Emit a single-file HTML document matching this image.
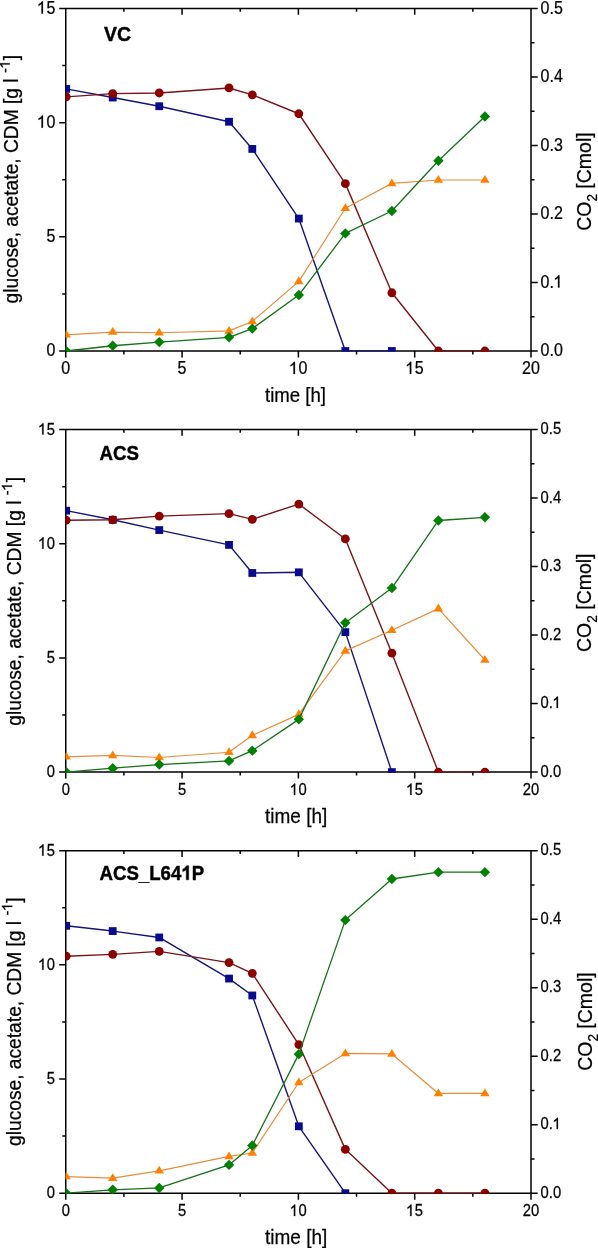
<!DOCTYPE html><html><head><meta charset="utf-8"><title>Fermentation time courses</title><style>
html,body{margin:0;padding:0;background:#fff;}body{width:598px;height:1248px;overflow:hidden;}
svg{display:block;will-change:transform;}text{font-family:"Liberation Sans",sans-serif;fill:#000;stroke:#000;stroke-width:0.25px;}.o{fill:#000;stroke:#000;stroke-width:0.25px;vector-effect:non-scaling-stroke;}text.b{stroke-width:0.45px;}.ob{fill:#000;stroke:#000;stroke-width:0.45px;vector-effect:non-scaling-stroke;}
</style></head><body>
<svg width="598" height="1248" viewBox="0 0 598 1248">
<rect x="0" y="0" width="598" height="1248" fill="#fff"/>
<path d="M65.75 8.5H531V351H65.75ZM59.25 351H65.75M62.25 293.92H65.75M59.25 236.83H65.75M62.25 179.75H65.75M59.25 122.67H65.75M62.25 65.58H65.75M59.25 8.5H65.75M531 351H537.7M531 316.75H534.5M531 282.5H537.7M531 248.25H534.5M531 214H537.7M531 179.75H534.5M531 145.5H537.7M531 111.25H534.5M531 77H537.7M531 42.75H534.5M531 8.5H537.7M65.75 351V357.5M123.91 351V354.5M123.91 8.5V11.7M182.06 351V357.5M182.06 8.5V14.7M240.22 351V354.5M240.22 8.5V11.7M298.38 351V357.5M298.38 8.5V14.7M356.53 351V354.5M356.53 8.5V11.7M414.69 351V357.5M414.69 8.5V14.7M472.84 351V354.5M472.84 8.5V11.7M531 351V357.5" fill="none" stroke="#000" stroke-width="1.5"/>
<defs><clipPath id="c0"><rect x="65.45" y="8.2" width="465.85" height="343.4"/></clipPath></defs>
<g clip-path="url(#c0)">
<polyline fill="none" stroke="#141478" stroke-width="1.4" stroke-linejoin="round" points="66.2,88.87 112.72,97.55 159.25,106.23 229.04,121.75 252.3,148.93 298.82,218.57 345.35,351 391.88,351"/>
<rect x="62.3" y="84.97" width="7.8" height="7.8" fill="#0a0a8c"/>
<rect x="108.82" y="93.65" width="7.8" height="7.8" fill="#0a0a8c"/>
<rect x="155.35" y="102.33" width="7.8" height="7.8" fill="#0a0a8c"/>
<rect x="225.14" y="117.85" width="7.8" height="7.8" fill="#0a0a8c"/>
<rect x="248.4" y="145.03" width="7.8" height="7.8" fill="#0a0a8c"/>
<rect x="294.93" y="214.67" width="7.8" height="7.8" fill="#0a0a8c"/>
<rect x="341.45" y="347.1" width="7.8" height="7.8" fill="#0a0a8c"/>
<rect x="387.98" y="347.1" width="7.8" height="7.8" fill="#0a0a8c"/>
<polyline fill="none" stroke="#761418" stroke-width="1.4" stroke-linejoin="round" points="66.2,96.87 112.72,93.67 159.25,92.98 229.04,87.96 252.3,94.81 298.82,113.76 345.35,183.63 391.88,292.77 438.4,351 484.92,351"/>
<circle cx="66.2" cy="96.87" r="4.4" fill="#8c0000"/>
<circle cx="112.72" cy="93.67" r="4.4" fill="#8c0000"/>
<circle cx="159.25" cy="92.98" r="4.4" fill="#8c0000"/>
<circle cx="229.04" cy="87.96" r="4.4" fill="#8c0000"/>
<circle cx="252.3" cy="94.81" r="4.4" fill="#8c0000"/>
<circle cx="298.82" cy="113.76" r="4.4" fill="#8c0000"/>
<circle cx="345.35" cy="183.63" r="4.4" fill="#8c0000"/>
<circle cx="391.88" cy="292.77" r="4.4" fill="#8c0000"/>
<circle cx="438.4" cy="351" r="4.4" fill="#8c0000"/>
<circle cx="484.92" cy="351" r="4.4" fill="#8c0000"/>
<polyline fill="none" stroke="#e88c3c" stroke-width="1.2" stroke-linejoin="round" points="66.2,334.79 112.72,332.05 159.25,332.73 229.04,330.91 252.3,321.55 298.82,281.36 345.35,208.29 391.88,183.4 438.4,179.98 484.92,179.98"/>
<polygon points="66.2,329.79 70.9,337.59 61.5,337.59" fill="#ff8000"/>
<polygon points="112.72,327.05 117.42,334.85 108.02,334.85" fill="#ff8000"/>
<polygon points="159.25,327.73 163.95,335.53 154.55,335.53" fill="#ff8000"/>
<polygon points="229.04,325.91 233.74,333.71 224.34,333.71" fill="#ff8000"/>
<polygon points="252.3,316.55 257,324.35 247.6,324.35" fill="#ff8000"/>
<polygon points="298.82,276.36 303.52,284.16 294.12,284.16" fill="#ff8000"/>
<polygon points="345.35,203.29 350.05,211.09 340.65,211.09" fill="#ff8000"/>
<polygon points="391.88,178.4 396.57,186.2 387.18,186.2" fill="#ff8000"/>
<polygon points="438.4,174.98 443.1,182.78 433.7,182.78" fill="#ff8000"/>
<polygon points="484.92,174.98 489.62,182.78 480.22,182.78" fill="#ff8000"/>
<polyline fill="none" stroke="#167018" stroke-width="1.3" stroke-linejoin="round" points="66.2,351 112.72,345.75 159.25,342.1 229.04,337.3 252.3,328.62 298.82,295.06 345.35,233.41 391.88,211.03 438.4,160.8 484.92,116.5"/>
<polygon points="66.2,345.8 71.4,351 66.2,356.2 61,351" fill="#008000"/>
<polygon points="112.72,340.55 117.92,345.75 112.72,350.95 107.52,345.75" fill="#008000"/>
<polygon points="159.25,336.9 164.45,342.1 159.25,347.3 154.05,342.1" fill="#008000"/>
<polygon points="229.04,332.1 234.24,337.3 229.04,342.5 223.84,337.3" fill="#008000"/>
<polygon points="252.3,323.42 257.5,328.62 252.3,333.82 247.1,328.62" fill="#008000"/>
<polygon points="298.82,289.86 304.02,295.06 298.82,300.26 293.62,295.06" fill="#008000"/>
<polygon points="345.35,228.21 350.55,233.41 345.35,238.61 340.15,233.41" fill="#008000"/>
<polygon points="391.88,205.83 397.07,211.03 391.88,216.23 386.68,211.03" fill="#008000"/>
<polygon points="438.4,155.6 443.6,160.8 438.4,166 433.2,160.8" fill="#008000"/>
<polygon points="484.92,111.3 490.12,116.5 484.92,121.7 479.72,116.5" fill="#008000"/>
</g>
<g transform="translate(55.3 356) scale(0.9 1)"><text x="-9.9" y="0" font-size="17.8">0</text></g>
<g transform="translate(55.3 241.83) scale(0.9 1)"><text x="-9.9" y="0" font-size="17.8">5</text></g>
<g transform="translate(55.3 127.67) scale(0.9 1)"><text x="-19.8" y="0" font-size="17.8"> 0</text><path class="o" transform="translate(-19.8 0) scale(0.008691 -0.008691)" d="M700 0H515V1098Q360 962 140 892V1058Q450 1190 582 1409H700Z"/></g>
<g transform="translate(55.3 13.5) scale(0.9 1)"><text x="-19.8" y="0" font-size="17.8"> 5</text><path class="o" transform="translate(-19.8 0) scale(0.008691 -0.008691)" d="M700 0H515V1098Q360 962 140 892V1058Q450 1190 582 1409H700Z"/></g>
<g transform="translate(540.6 356) scale(0.9 1)"><text x="0" y="0" font-size="17.8">0.0</text></g>
<g transform="translate(540.6 287.5) scale(0.9 1)"><text x="0" y="0" font-size="17.8">0. </text><path class="o" transform="translate(14.84 0) scale(0.008691 -0.008691)" d="M700 0H515V1098Q360 962 140 892V1058Q450 1190 582 1409H700Z"/></g>
<g transform="translate(540.6 219) scale(0.9 1)"><text x="0" y="0" font-size="17.8">0.2</text></g>
<g transform="translate(540.6 150.5) scale(0.9 1)"><text x="0" y="0" font-size="17.8">0.3</text></g>
<g transform="translate(540.6 82) scale(0.9 1)"><text x="0" y="0" font-size="17.8">0.4</text></g>
<g transform="translate(540.6 13.5) scale(0.9 1)"><text x="0" y="0" font-size="17.8">0.5</text></g>
<g transform="translate(65.75 374.1) scale(0.9 1)"><text x="-4.95" y="0" font-size="17.8">0</text></g>
<g transform="translate(182.06 374.1) scale(0.9 1)"><text x="-4.95" y="0" font-size="17.8">5</text></g>
<g transform="translate(298.38 374.1) scale(0.9 1)"><text x="-9.9" y="0" font-size="17.8"> 0</text><path class="o" transform="translate(-9.9 0) scale(0.008691 -0.008691)" d="M700 0H515V1098Q360 962 140 892V1058Q450 1190 582 1409H700Z"/></g>
<g transform="translate(414.69 374.1) scale(0.9 1)"><text x="-9.9" y="0" font-size="17.8"> 5</text><path class="o" transform="translate(-9.9 0) scale(0.008691 -0.008691)" d="M700 0H515V1098Q360 962 140 892V1058Q450 1190 582 1409H700Z"/></g>
<g transform="translate(531 374.1) scale(0.9 1)"><text x="-9.9" y="0" font-size="17.8">20</text></g>
<g transform="translate(265 402) scale(0.93 1)"><text x="0" y="0" font-size="20">time [h]</text></g>
<g transform="translate(18.3 179.15) rotate(-90) scale(0.96 1)"><text x="-129.5" y="0" font-size="20">glucose, acetate, CDM [g l </text><text x="110.61" y="-8.6" font-size="15">-</text><path class="o" transform="translate(115.6 -8.6) scale(0.007324 -0.007324)" d="M700 0H515V1098Q360 962 140 892V1058Q450 1190 582 1409H700Z"/><text x="123.94" y="0" font-size="20">]</text></g>
<g transform="translate(591 181.6) rotate(-90) scale(0.974 1)"><text x="-50.56" y="0" font-size="20">CO</text><text x="-20.56" y="6" font-size="14">2</text><text x="-7.22" y="0" font-size="20">[Cmol]</text></g>
<g transform="translate(104 40.6) scale(0.95 1)"><text x="0" y="0" font-size="20.5" font-weight="bold" class="b">VC</text></g>
<path d="M65.75 429.6H531V772.1H65.75ZM59.25 772.1H65.75M62.25 715.02H65.75M59.25 657.93H65.75M62.25 600.85H65.75M59.25 543.77H65.75M62.25 486.68H65.75M59.25 429.6H65.75M531 772.1H537.7M531 737.85H534.5M531 703.6H537.7M531 669.35H534.5M531 635.1H537.7M531 600.85H534.5M531 566.6H537.7M531 532.35H534.5M531 498.1H537.7M531 463.85H534.5M531 429.6H537.7M65.75 772.1V778.6M123.91 772.1V775.6M123.91 429.6V432.8M182.06 772.1V778.6M182.06 429.6V435.8M240.22 772.1V775.6M240.22 429.6V432.8M298.38 772.1V778.6M298.38 429.6V435.8M356.53 772.1V775.6M356.53 429.6V432.8M414.69 772.1V778.6M414.69 429.6V435.8M472.84 772.1V775.6M472.84 429.6V432.8M531 772.1V778.6" fill="none" stroke="#000" stroke-width="1.5"/>
<defs><clipPath id="c1"><rect x="65.45" y="429.3" width="465.85" height="343.4"/></clipPath></defs>
<g clip-path="url(#c1)">
<polyline fill="none" stroke="#141478" stroke-width="1.4" stroke-linejoin="round" points="66.2,510.66 112.72,519.79 159.25,530.07 229.04,544.91 252.3,572.99 298.82,572.31 345.35,632.13 391.88,772.1"/>
<rect x="62.3" y="506.76" width="7.8" height="7.8" fill="#0a0a8c"/>
<rect x="108.82" y="515.89" width="7.8" height="7.8" fill="#0a0a8c"/>
<rect x="155.35" y="526.17" width="7.8" height="7.8" fill="#0a0a8c"/>
<rect x="225.14" y="541.01" width="7.8" height="7.8" fill="#0a0a8c"/>
<rect x="248.4" y="569.09" width="7.8" height="7.8" fill="#0a0a8c"/>
<rect x="294.93" y="568.41" width="7.8" height="7.8" fill="#0a0a8c"/>
<rect x="341.45" y="628.23" width="7.8" height="7.8" fill="#0a0a8c"/>
<rect x="387.98" y="768.2" width="7.8" height="7.8" fill="#0a0a8c"/>
<polyline fill="none" stroke="#761418" stroke-width="1.4" stroke-linejoin="round" points="66.2,520.25 112.72,519.79 159.25,516.14 229.04,513.63 252.3,519.34 298.82,504.04 345.35,538.97 391.88,653.14 438.4,772.1 484.92,772.1"/>
<circle cx="66.2" cy="520.25" r="4.4" fill="#8c0000"/>
<circle cx="112.72" cy="519.79" r="4.4" fill="#8c0000"/>
<circle cx="159.25" cy="516.14" r="4.4" fill="#8c0000"/>
<circle cx="229.04" cy="513.63" r="4.4" fill="#8c0000"/>
<circle cx="252.3" cy="519.34" r="4.4" fill="#8c0000"/>
<circle cx="298.82" cy="504.04" r="4.4" fill="#8c0000"/>
<circle cx="345.35" cy="538.97" r="4.4" fill="#8c0000"/>
<circle cx="391.88" cy="653.14" r="4.4" fill="#8c0000"/>
<circle cx="438.4" cy="772.1" r="4.4" fill="#8c0000"/>
<circle cx="484.92" cy="772.1" r="4.4" fill="#8c0000"/>
<polyline fill="none" stroke="#e88c3c" stroke-width="1.2" stroke-linejoin="round" points="66.2,756.8 112.72,755.43 159.25,757.49 229.04,752.24 252.3,735.34 298.82,714.33 345.35,650.86 391.88,630.31 438.4,608.61 484.92,659.99"/>
<polygon points="66.2,751.8 70.9,759.6 61.5,759.6" fill="#ff8000"/>
<polygon points="112.72,750.43 117.42,758.23 108.02,758.23" fill="#ff8000"/>
<polygon points="159.25,752.49 163.95,760.29 154.55,760.29" fill="#ff8000"/>
<polygon points="229.04,747.24 233.74,755.03 224.34,755.03" fill="#ff8000"/>
<polygon points="252.3,730.34 257,738.14 247.6,738.14" fill="#ff8000"/>
<polygon points="298.82,709.33 303.52,717.13 294.12,717.13" fill="#ff8000"/>
<polygon points="345.35,645.86 350.05,653.65 340.65,653.65" fill="#ff8000"/>
<polygon points="391.88,625.31 396.57,633.11 387.18,633.11" fill="#ff8000"/>
<polygon points="438.4,603.61 443.1,611.41 433.7,611.41" fill="#ff8000"/>
<polygon points="484.92,654.99 489.62,662.79 480.22,662.79" fill="#ff8000"/>
<polyline fill="none" stroke="#167018" stroke-width="1.3" stroke-linejoin="round" points="66.2,772.1 112.72,768.22 159.25,764.57 229.04,760.91 252.3,750.64 298.82,719.36 345.35,622.77 391.88,588.06 438.4,520.48 484.92,517.28"/>
<polygon points="66.2,766.9 71.4,772.1 66.2,777.3 61,772.1" fill="#008000"/>
<polygon points="112.72,763.02 117.92,768.22 112.72,773.42 107.52,768.22" fill="#008000"/>
<polygon points="159.25,759.37 164.45,764.57 159.25,769.77 154.05,764.57" fill="#008000"/>
<polygon points="229.04,755.71 234.24,760.91 229.04,766.11 223.84,760.91" fill="#008000"/>
<polygon points="252.3,745.44 257.5,750.64 252.3,755.84 247.1,750.64" fill="#008000"/>
<polygon points="298.82,714.15 304.02,719.36 298.82,724.56 293.62,719.36" fill="#008000"/>
<polygon points="345.35,617.57 350.55,622.77 345.35,627.97 340.15,622.77" fill="#008000"/>
<polygon points="391.88,582.86 397.07,588.06 391.88,593.26 386.68,588.06" fill="#008000"/>
<polygon points="438.4,515.28 443.6,520.48 438.4,525.68 433.2,520.48" fill="#008000"/>
<polygon points="484.92,512.08 490.12,517.28 484.92,522.48 479.72,517.28" fill="#008000"/>
</g>
<g transform="translate(54.9 777.1) scale(0.89 1)"><text x="-9.23" y="0" font-size="16.6">0</text></g>
<g transform="translate(54.9 662.93) scale(0.89 1)"><text x="-9.23" y="0" font-size="16.6">5</text></g>
<g transform="translate(54.9 548.77) scale(0.89 1)"><text x="-18.46" y="0" font-size="16.6"> 0</text><path class="o" transform="translate(-18.46 0) scale(0.008105 -0.008105)" d="M700 0H515V1098Q360 962 140 892V1058Q450 1190 582 1409H700Z"/></g>
<g transform="translate(54.9 434.6) scale(0.89 1)"><text x="-18.46" y="0" font-size="16.6"> 5</text><path class="o" transform="translate(-18.46 0) scale(0.008105 -0.008105)" d="M700 0H515V1098Q360 962 140 892V1058Q450 1190 582 1409H700Z"/></g>
<g transform="translate(540.6 776.5) scale(0.89 1)"><text x="0" y="0" font-size="16.6">0.0</text></g>
<g transform="translate(540.6 708) scale(0.89 1)"><text x="0" y="0" font-size="16.6">0. </text><path class="o" transform="translate(13.84 0) scale(0.008105 -0.008105)" d="M700 0H515V1098Q360 962 140 892V1058Q450 1190 582 1409H700Z"/></g>
<g transform="translate(540.6 639.5) scale(0.89 1)"><text x="0" y="0" font-size="16.6">0.2</text></g>
<g transform="translate(540.6 571) scale(0.89 1)"><text x="0" y="0" font-size="16.6">0.3</text></g>
<g transform="translate(540.6 502.5) scale(0.89 1)"><text x="0" y="0" font-size="16.6">0.4</text></g>
<g transform="translate(540.6 434) scale(0.89 1)"><text x="0" y="0" font-size="16.6">0.5</text></g>
<g transform="translate(65.75 794.9) scale(0.89 1)"><text x="-4.62" y="0" font-size="16.6">0</text></g>
<g transform="translate(182.06 794.9) scale(0.89 1)"><text x="-4.62" y="0" font-size="16.6">5</text></g>
<g transform="translate(298.38 794.9) scale(0.89 1)"><text x="-9.23" y="0" font-size="16.6"> 0</text><path class="o" transform="translate(-9.23 0) scale(0.008105 -0.008105)" d="M700 0H515V1098Q360 962 140 892V1058Q450 1190 582 1409H700Z"/></g>
<g transform="translate(414.69 794.9) scale(0.89 1)"><text x="-9.23" y="0" font-size="16.6"> 5</text><path class="o" transform="translate(-9.23 0) scale(0.008105 -0.008105)" d="M700 0H515V1098Q360 962 140 892V1058Q450 1190 582 1409H700Z"/></g>
<g transform="translate(531 794.9) scale(0.89 1)"><text x="-9.23" y="0" font-size="16.6">20</text></g>
<g transform="translate(265 823.1) scale(0.95 1)"><text x="0" y="0" font-size="20">time [h]</text></g>
<g transform="translate(20.7 601.35) rotate(-90) scale(0.96 1)"><text x="-129.5" y="0" font-size="20">glucose, acetate, CDM [g l </text><text x="110.61" y="-8.6" font-size="15">-</text><path class="o" transform="translate(115.6 -8.6) scale(0.007324 -0.007324)" d="M700 0H515V1098Q360 962 140 892V1058Q450 1190 582 1409H700Z"/><text x="123.94" y="0" font-size="20">]</text></g>
<g transform="translate(591 602.7) rotate(-90) scale(0.974 1)"><text x="-50.56" y="0" font-size="20">CO</text><text x="-20.56" y="6" font-size="14">2</text><text x="-7.22" y="0" font-size="20">[Cmol]</text></g>
<g transform="translate(99.5 459.7) scale(0.91 1)"><text x="0" y="0" font-size="20.5" font-weight="bold" class="b">ACS</text></g>
<path d="M65.75 850.7H531V1193.2H65.75ZM59.25 1193.2H65.75M62.25 1136.12H65.75M59.25 1079.03H65.75M62.25 1021.95H65.75M59.25 964.87H65.75M62.25 907.78H65.75M59.25 850.7H65.75M531 1193.2H537.7M531 1158.95H534.5M531 1124.7H537.7M531 1090.45H534.5M531 1056.2H537.7M531 1021.95H534.5M531 987.7H537.7M531 953.45H534.5M531 919.2H537.7M531 884.95H534.5M531 850.7H537.7M65.75 1193.2V1199.7M123.91 1193.2V1196.7M123.91 850.7V853.9M182.06 1193.2V1199.7M182.06 850.7V856.9M240.22 1193.2V1196.7M240.22 850.7V853.9M298.38 1193.2V1199.7M298.38 850.7V856.9M356.53 1193.2V1196.7M356.53 850.7V853.9M414.69 1193.2V1199.7M414.69 850.7V856.9M472.84 1193.2V1196.7M472.84 850.7V853.9M531 1193.2V1199.7" fill="none" stroke="#000" stroke-width="1.5"/>
<defs><clipPath id="c2"><rect x="65.45" y="850.4" width="465.85" height="343.4"/></clipPath></defs>
<g clip-path="url(#c2)">
<polyline fill="none" stroke="#141478" stroke-width="1.4" stroke-linejoin="round" points="66.2,925.82 112.72,931.07 159.25,937.47 229.04,978.57 252.3,995.46 298.82,1126.3 345.35,1193.2"/>
<rect x="62.3" y="921.92" width="7.8" height="7.8" fill="#0a0a8c"/>
<rect x="108.82" y="927.17" width="7.8" height="7.8" fill="#0a0a8c"/>
<rect x="155.35" y="933.57" width="7.8" height="7.8" fill="#0a0a8c"/>
<rect x="225.14" y="974.67" width="7.8" height="7.8" fill="#0a0a8c"/>
<rect x="248.4" y="991.56" width="7.8" height="7.8" fill="#0a0a8c"/>
<rect x="294.93" y="1122.4" width="7.8" height="7.8" fill="#0a0a8c"/>
<rect x="341.45" y="1189.3" width="7.8" height="7.8" fill="#0a0a8c"/>
<polyline fill="none" stroke="#761418" stroke-width="1.4" stroke-linejoin="round" points="66.2,956.19 112.72,954.36 159.25,951.4 229.04,962.58 252.3,973.32 298.82,1044.56 345.35,1149.36 391.88,1193.2 438.4,1193.2 484.92,1193.2"/>
<circle cx="66.2" cy="956.19" r="4.4" fill="#8c0000"/>
<circle cx="112.72" cy="954.36" r="4.4" fill="#8c0000"/>
<circle cx="159.25" cy="951.4" r="4.4" fill="#8c0000"/>
<circle cx="229.04" cy="962.58" r="4.4" fill="#8c0000"/>
<circle cx="252.3" cy="973.32" r="4.4" fill="#8c0000"/>
<circle cx="298.82" cy="1044.56" r="4.4" fill="#8c0000"/>
<circle cx="345.35" cy="1149.36" r="4.4" fill="#8c0000"/>
<circle cx="391.88" cy="1193.2" r="4.4" fill="#8c0000"/>
<circle cx="438.4" cy="1193.2" r="4.4" fill="#8c0000"/>
<circle cx="484.92" cy="1193.2" r="4.4" fill="#8c0000"/>
<polyline fill="none" stroke="#e88c3c" stroke-width="1.2" stroke-linejoin="round" points="66.2,1176.53 112.72,1178.13 159.25,1170.82 229.04,1156.44 252.3,1153.01 298.82,1082.46 345.35,1053.46 391.88,1053.92 438.4,1093.42 484.92,1093.42"/>
<polygon points="66.2,1171.53 70.9,1179.33 61.5,1179.33" fill="#ff8000"/>
<polygon points="112.72,1173.13 117.42,1180.93 108.02,1180.93" fill="#ff8000"/>
<polygon points="159.25,1165.82 163.95,1173.62 154.55,1173.62" fill="#ff8000"/>
<polygon points="229.04,1151.44 233.74,1159.24 224.34,1159.24" fill="#ff8000"/>
<polygon points="252.3,1148.01 257,1155.81 247.6,1155.81" fill="#ff8000"/>
<polygon points="298.82,1077.46 303.52,1085.26 294.12,1085.26" fill="#ff8000"/>
<polygon points="345.35,1048.46 350.05,1056.26 340.65,1056.26" fill="#ff8000"/>
<polygon points="391.88,1048.92 396.57,1056.72 387.18,1056.72" fill="#ff8000"/>
<polygon points="438.4,1088.42 443.1,1096.22 433.7,1096.22" fill="#ff8000"/>
<polygon points="484.92,1088.42 489.62,1096.22 480.22,1096.22" fill="#ff8000"/>
<polyline fill="none" stroke="#167018" stroke-width="1.3" stroke-linejoin="round" points="66.2,1193.2 112.72,1189.78 159.25,1187.95 229.04,1164.89 252.3,1145.48 298.82,1054.14 345.35,920.11 391.88,879.01 438.4,872.16 484.92,872.16"/>
<polygon points="66.2,1188 71.4,1193.2 66.2,1198.4 61,1193.2" fill="#008000"/>
<polygon points="112.72,1184.58 117.92,1189.78 112.72,1194.98 107.52,1189.78" fill="#008000"/>
<polygon points="159.25,1182.75 164.45,1187.95 159.25,1193.15 154.05,1187.95" fill="#008000"/>
<polygon points="229.04,1159.69 234.24,1164.89 229.04,1170.09 223.84,1164.89" fill="#008000"/>
<polygon points="252.3,1140.28 257.5,1145.48 252.3,1150.68 247.1,1145.48" fill="#008000"/>
<polygon points="298.82,1048.94 304.02,1054.14 298.82,1059.35 293.62,1054.14" fill="#008000"/>
<polygon points="345.35,914.91 350.55,920.11 345.35,925.31 340.15,920.11" fill="#008000"/>
<polygon points="391.88,873.81 397.07,879.01 391.88,884.21 386.68,879.01" fill="#008000"/>
<polygon points="438.4,866.96 443.6,872.16 438.4,877.36 433.2,872.16" fill="#008000"/>
<polygon points="484.92,866.96 490.12,872.16 484.92,877.36 479.72,872.16" fill="#008000"/>
</g>
<g transform="translate(54.9 1198.2) scale(0.89 1)"><text x="-9.23" y="0" font-size="16.6">0</text></g>
<g transform="translate(54.9 1084.03) scale(0.89 1)"><text x="-9.23" y="0" font-size="16.6">5</text></g>
<g transform="translate(54.9 969.87) scale(0.89 1)"><text x="-18.46" y="0" font-size="16.6"> 0</text><path class="o" transform="translate(-18.46 0) scale(0.008105 -0.008105)" d="M700 0H515V1098Q360 962 140 892V1058Q450 1190 582 1409H700Z"/></g>
<g transform="translate(54.9 855.7) scale(0.89 1)"><text x="-18.46" y="0" font-size="16.6"> 5</text><path class="o" transform="translate(-18.46 0) scale(0.008105 -0.008105)" d="M700 0H515V1098Q360 962 140 892V1058Q450 1190 582 1409H700Z"/></g>
<g transform="translate(540.6 1197.6) scale(0.89 1)"><text x="0" y="0" font-size="16.6">0.0</text></g>
<g transform="translate(540.6 1129.1) scale(0.89 1)"><text x="0" y="0" font-size="16.6">0. </text><path class="o" transform="translate(13.84 0) scale(0.008105 -0.008105)" d="M700 0H515V1098Q360 962 140 892V1058Q450 1190 582 1409H700Z"/></g>
<g transform="translate(540.6 1060.6) scale(0.89 1)"><text x="0" y="0" font-size="16.6">0.2</text></g>
<g transform="translate(540.6 992.1) scale(0.89 1)"><text x="0" y="0" font-size="16.6">0.3</text></g>
<g transform="translate(540.6 923.6) scale(0.89 1)"><text x="0" y="0" font-size="16.6">0.4</text></g>
<g transform="translate(540.6 855.1) scale(0.89 1)"><text x="0" y="0" font-size="16.6">0.5</text></g>
<g transform="translate(65.75 1216) scale(0.89 1)"><text x="-4.62" y="0" font-size="16.6">0</text></g>
<g transform="translate(182.06 1216) scale(0.89 1)"><text x="-4.62" y="0" font-size="16.6">5</text></g>
<g transform="translate(298.38 1216) scale(0.89 1)"><text x="-9.23" y="0" font-size="16.6"> 0</text><path class="o" transform="translate(-9.23 0) scale(0.008105 -0.008105)" d="M700 0H515V1098Q360 962 140 892V1058Q450 1190 582 1409H700Z"/></g>
<g transform="translate(414.69 1216) scale(0.89 1)"><text x="-9.23" y="0" font-size="16.6"> 5</text><path class="o" transform="translate(-9.23 0) scale(0.008105 -0.008105)" d="M700 0H515V1098Q360 962 140 892V1058Q450 1190 582 1409H700Z"/></g>
<g transform="translate(531 1216) scale(0.89 1)"><text x="-9.23" y="0" font-size="16.6">20</text></g>
<g transform="translate(265 1244.2) scale(0.95 1)"><text x="0" y="0" font-size="20">time [h]</text></g>
<g transform="translate(20.8 1021.65) rotate(-90) scale(0.96 1)"><text x="-129.5" y="0" font-size="20">glucose, acetate, CDM [g l </text><text x="110.61" y="-8.6" font-size="15">-</text><path class="o" transform="translate(115.6 -8.6) scale(0.007324 -0.007324)" d="M700 0H515V1098Q360 962 140 892V1058Q450 1190 582 1409H700Z"/><text x="123.94" y="0" font-size="20">]</text></g>
<g transform="translate(591.5 1021.6) rotate(-90) scale(0.974 1)"><text x="-50.56" y="0" font-size="20">CO</text><text x="-20.56" y="6" font-size="14">2</text><text x="-7.22" y="0" font-size="20">[Cmol]</text></g>
<g transform="translate(99.5 879.8) scale(0.91 1)"><text x="0" y="0" font-size="20.5" font-weight="bold" class="b">ACS_L64 P</text><path class="ob" transform="translate(90.01 0) scale(0.010010 -0.010010)" d="M800 0H530V1000Q372 884 152 818V1064Q420 1160 568 1409H800Z"/></g>
</svg></body></html>
